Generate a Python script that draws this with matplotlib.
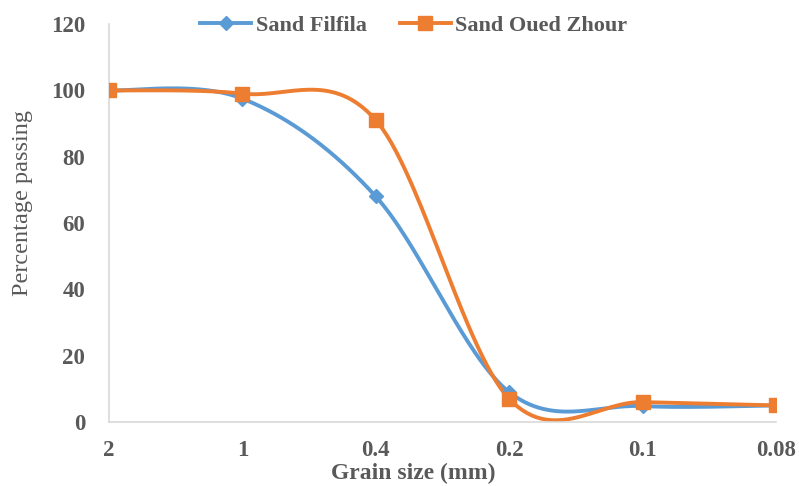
import numpy as np
import matplotlib
matplotlib.use("Agg")
import matplotlib.pyplot as plt

sizes = ["2", "1", "0.4", "0.2", "0.1", "0.08"]
filfila = [100, 97.5, 68, 9, 4.8, 5]
oued_zhour = [100, 99, 91, 7, 6, 5]

blue = "#5B9BD5"
orange = "#ED7D31"
grey = "#595959"
font = "Liberation Serif"


def smooth(x, y, n=60):
    # Catmull-Rom style cubic bezier through every point, ends duplicated
    p = np.column_stack([x, y]).astype(float)
    p = np.vstack([p[:1], p, p[-1:]])
    t = np.linspace(0, 1, n)[:, None]
    out = []
    for i in range(1, len(p) - 2):
        p0, p1, p2, p3 = p[i - 1], p[i], p[i + 1], p[i + 2]
        c1 = p1 + (p2 - p0) / 6
        c2 = p2 - (p3 - p1) / 6
        seg = (1 - t) ** 3 * p1 + 3 * (1 - t) ** 2 * t * c1 + 3 * (1 - t) * t ** 2 * c2 + t ** 3 * p2
        out.append(seg)
    out = np.vstack(out)
    return out[:, 0], out[:, 1]


fig = plt.figure(figsize=(7.99, 4.86), dpi=100)
ax = fig.add_axes([0.1364, 0.1317, 0.8348, 0.8189])

x = np.arange(len(sizes))
for vals, col, mk, ms, lab in [(filfila, blue, "D", 7, "Sand Filfila"),
                               (oued_zhour, orange, "s", 10.5, "Sand Oued Zhour")]:
    sx, sy = smooth(x, vals)
    ax.plot(sx, sy, color=col, lw=2.8, solid_capstyle="round", zorder=2)
    ax.plot(x, vals, linestyle="none", marker=mk, ms=ms, color=col, zorder=3)
    ax.plot([], [], color=col, lw=2.8, marker=mk, ms=ms, label=lab)

ax.set_xlim(0, len(sizes) - 1)
ax.set_ylim(0, 120)
ax.set_yticks(np.arange(0, 121, 20))
ax.set_xticks(x)
ax.set_xticklabels(sizes)

for s in ["top", "right"]:
    ax.spines[s].set_visible(False)
for s in ["left", "bottom"]:
    ax.spines[s].set_color("#D9D9D9")
    ax.spines[s].set_linewidth(1.2)
ax.tick_params(length=0, labelcolor=grey, labelsize=16.5)
ax.tick_params(axis="x", pad=13)
ax.tick_params(axis="y", pad=17)
for lbl in ax.get_xticklabels() + ax.get_yticklabels():
    lbl.set_fontfamily(font)
    lbl.set_fontweight("bold")

ax.set_xlabel("Grain size (mm)", fontsize=17, fontweight="bold", color=grey,
              fontfamily=font)
ax.set_ylabel("Percentage passing", fontsize=17.5, color=grey, fontfamily=font)
ax.xaxis.set_label_coords(0.456, -0.102)
ax.yaxis.set_label_coords(-0.114, 0.55)

leg = ax.legend(loc="center", bbox_to_anchor=(0.457, 0.995), ncol=2, frameon=False,
                prop={"family": font, "weight": "bold", "size": 16},
                handlelength=2.3, columnspacing=1.5, handletextpad=0.2)
for t in leg.get_texts():
    t.set_color(grey)

fig.savefig("out.png", dpi=100)
